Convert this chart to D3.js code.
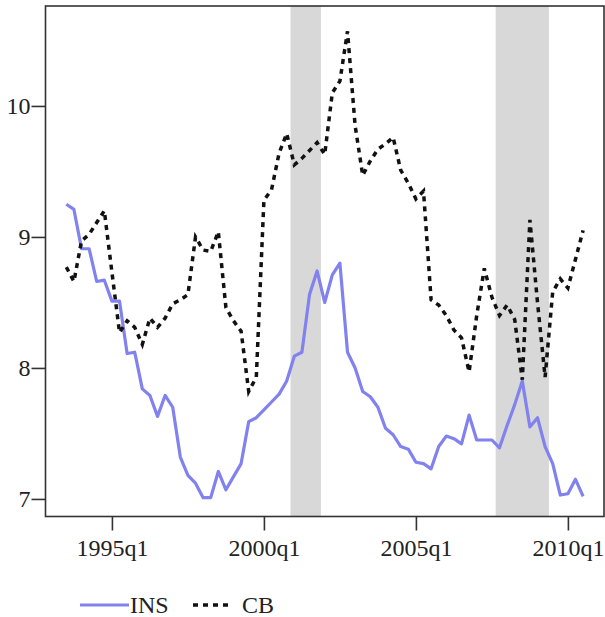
<!DOCTYPE html>
<html>
<head>
<meta charset="utf-8">
<script src="https://cdn.jsdelivr.net/npm/d3@7/dist/d3.min.js"></script>
<style>
  html, body { margin: 0; padding: 0; background: #fff; }
  svg { display: block; }
</style>
</head>
<body>
<svg id="chart" width="605" height="617"></svg>
<script>
// ---- data ----
const quarters = [
  "1993q3","1993q4",
  "1994q1","1994q2","1994q3","1994q4",
  "1995q1","1995q2","1995q3","1995q4",
  "1996q1","1996q2","1996q3","1996q4",
  "1997q1","1997q2","1997q3","1997q4",
  "1998q1","1998q2","1998q3","1998q4",
  "1999q1","1999q2","1999q3","1999q4",
  "2000q1","2000q2","2000q3","2000q4",
  "2001q1","2001q2","2001q3","2001q4",
  "2002q1","2002q2","2002q3","2002q4",
  "2003q1","2003q2","2003q3","2003q4",
  "2004q1","2004q2","2004q3","2004q4",
  "2005q1","2005q2","2005q3","2005q4",
  "2006q1","2006q2","2006q3","2006q4",
  "2007q1","2007q2","2007q3","2007q4",
  "2008q1","2008q2","2008q3","2008q4",
  "2009q1","2009q2","2009q3","2009q4",
  "2010q1","2010q2","2010q3"
];
const insValues = [
  9.25, 9.21, 8.91, 8.91, 8.66, 8.67, 8.51, 8.51, 8.11, 8.12,
  7.84, 7.79, 7.63, 7.79, 7.70, 7.32, 7.18, 7.12, 7.01, 7.01,
  7.21, 7.07, 7.17, 7.27, 7.59, 7.62, 7.68, 7.74, 7.80, 7.90,
  8.09, 8.12, 8.56, 8.74, 8.50, 8.71, 8.80, 8.12, 8.00, 7.82,
  7.78, 7.70, 7.54, 7.49, 7.40, 7.38, 7.28, 7.27, 7.23, 7.40,
  7.48, 7.46, 7.42, 7.64, 7.45, 7.45, 7.45, 7.39, 7.56, 7.72,
  7.90, 7.55, 7.62, 7.40, 7.27, 7.03, 7.04, 7.15, 7.02
];
const cbValues = [
  8.77, 8.66, 8.97, 9.02, 9.11, 9.20, 8.73, 8.27, 8.36, 8.31,
  8.18, 8.38, 8.31, 8.38, 8.49, 8.52, 8.56, 9.00, 8.90, 8.89,
  9.04, 8.46, 8.36, 8.28, 7.82, 7.93, 9.28, 9.36, 9.64, 9.79,
  9.55, 9.60, 9.66, 9.72, 9.63, 10.10, 10.19, 10.57, 9.85, 9.47,
  9.58, 9.67, 9.71, 9.76, 9.51, 9.41, 9.29, 9.35, 8.52, 8.48,
  8.40, 8.29, 8.23, 7.97, 8.40, 8.76, 8.54, 8.40, 8.48, 8.37,
  7.91, 9.13, 8.50, 7.93, 8.58, 8.68, 8.61, 8.83, 9.05
];
const recessions = [["2001q1", "2001q4"], ["2007q4", "2009q2"]];
const xTickLabels = ["1995q1", "2000q1", "2005q1", "2010q1"];
const yTicks = [7, 8, 9, 10];
const seriesNames = ["INS", "CB"];

// ---- layout ----
const FONT = '"Liberation Serif", "Times New Roman", Times, serif';
const FS = "24px";
const svg = d3.select("#chart");
const L = 45.5, R = 604, T = 6, B = 516.5;
const x = d3.scaleLinear().domain([-2.74, 70.75]).range([L, R]);
const y = d3.scaleLinear().domain([6.866, 10.763]).range([B, T]);
const qi = q => quarters.indexOf(q);
const styleText = sel => sel.style("font-family", FONT).style("font-size", FS).style("fill", "#222");

// recession shading
svg.append("g").selectAll("rect").data(recessions).join("rect")
  .attr("x", d => x(qi(d[0]) - 0.5))
  .attr("width", d => x(qi(d[1]) + 0.5) - x(qi(d[0]) - 0.5))
  .attr("y", T).attr("height", B - T)
  .attr("fill", "#d8d8d8");

// lines
const line = d3.line().x((d, i) => x(i)).y(d => y(d));
svg.append("path").datum(insValues)
  .attr("d", line).attr("fill", "none")
  .attr("stroke", "#8282ef").attr("stroke-width", 3.2)
  .attr("stroke-linejoin", "round");
svg.append("path").datum(cbValues)
  .attr("d", line).attr("fill", "none")
  .attr("stroke", "#111").attr("stroke-width", 3.5)
  .attr("stroke-dasharray", "5,5");

// frame
svg.append("rect").attr("x", L).attr("y", T)
  .attr("width", R - L).attr("height", B - T)
  .attr("fill", "none").attr("stroke", "#333").attr("stroke-width", 1.6);

// axes
const xAxis = d3.axisBottom(x)
  .tickValues(xTickLabels.map(qi))
  .tickFormat(i => quarters[i])
  .tickSize(14).tickPadding(8);
const gx = svg.append("g").attr("transform", `translate(0,${B})`).call(xAxis)
  .attr("font-family", null).attr("font-size", null);
gx.select(".domain").remove();
gx.selectAll("line").attr("stroke", "#333").attr("stroke-width", 1.6);
gx.selectAll("text").call(styleText);

const yAxis = d3.axisLeft(y).tickValues(yTicks).tickFormat(d3.format("d"))
  .tickSize(14).tickPadding(1);
const gy = svg.append("g").attr("transform", `translate(${L},0)`).call(yAxis)
  .attr("font-family", null).attr("font-size", null);
gy.select(".domain").remove();
gy.selectAll("line").attr("stroke", "#333").attr("stroke-width", 1.6);
gy.selectAll("text").call(styleText);

// legend
const lg = svg.append("g");
const ly = 605;
lg.append("line").attr("x1", 80).attr("x2", 129).attr("y1", ly).attr("y2", ly)
  .attr("stroke", "#8282ef").attr("stroke-width", 3.2);
lg.append("text").attr("x", 130).attr("y", ly + 8).call(styleText).text(seriesNames[0]);
lg.append("line").attr("x1", 193).attr("x2", 232).attr("y1", ly).attr("y2", ly)
  .attr("stroke", "#111").attr("stroke-width", 3.5).attr("stroke-dasharray", "5,5");
lg.append("text").attr("x", 242).attr("y", ly + 8).call(styleText).text(seriesNames[1]);
</script>
</body>
</html>
